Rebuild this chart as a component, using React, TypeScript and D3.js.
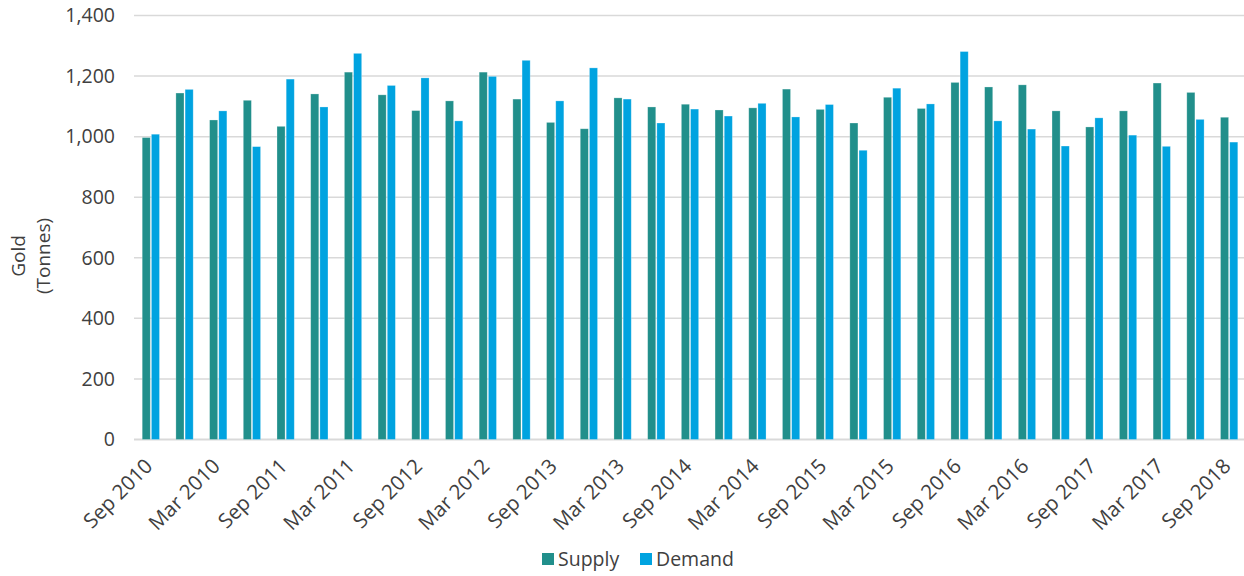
import React from "react";
import * as d3 from "d3";

const categories = [
  "Sep 2010", "Dec 2010", "Mar 2010", "Jun 2010",
  "Sep 2011", "Dec 2011", "Mar 2011", "Jun 2011",
  "Sep 2012", "Dec 2012", "Mar 2012", "Jun 2012",
  "Sep 2013", "Dec 2013", "Mar 2013", "Jun 2013",
  "Sep 2014", "Dec 2014", "Mar 2014", "Jun 2014",
  "Sep 2015", "Dec 2015", "Mar 2015", "Jun 2015",
  "Sep 2016", "Dec 2016", "Mar 2016", "Jun 2016",
  "Sep 2017", "Dec 2017", "Mar 2017", "Jun 2017",
  "Sep 2018",
];

const supply = [
  997, 1144, 1055, 1120, 1034, 1141, 1213, 1138, 1086, 1118, 1213, 1124,
  1047, 1026, 1128, 1098, 1107, 1088, 1095, 1157, 1090, 1045, 1130, 1093,
  1179, 1164, 1171, 1085, 1032, 1085, 1177, 1146, 1064,
];

const demand = [
  1008, 1156, 1085, 967, 1190, 1098, 1275, 1169, 1194, 1052, 1199, 1252,
  1118, 1227, 1124, 1045, 1091, 1068, 1110, 1065, 1106, 955, 1160, 1108,
  1281, 1052, 1025, 969, 1062, 1005, 968, 1057, 982,
];

const yTicks = [0, 200, 400, 600, 800, 1000, 1200, 1400];

const seriesNames = ["Supply", "Demand"];
const seriesColors = ["#218F8B", "#00A3E0"];

const W = 1244;
const H = 576;
const FONT = "'Open Sans', sans-serif";
const TEXT = "#404040";

export default function App() {
  const left = 134;
  const right = 1246;
  const top = 15.5;
  const bottom = 439.5;

  const x = d3
    .scaleBand<string>()
    .domain(categories)
    .range([left, right])
    .paddingInner(0.487)
    .paddingOuter(0.2435);
  const xs = d3
    .scaleBand<string>()
    .domain(seriesNames)
    .range([0, x.bandwidth()])
    .paddingInner(0.12);
  const y = d3.scaleLinear().domain([0, 1400]).range([bottom, top]);

  const data = [supply, demand];
  const fmt = d3.format(",");

  return (
    <svg
      width={W}
      height={H}
      style={{ position: "absolute", left: 0, top: 0, background: "#fff" }}
      fontFamily={FONT}
    >
      {yTicks.map((t) => (
        <g key={t}>
          <line
            x1={left}
            x2={W}
            y1={y(t)}
            y2={y(t)}
            stroke="#D9D9D9"
            strokeWidth={t === 0 ? 2 : 1.5}
          />
          <text
            x={115}
            y={y(t)}
            dy="0.35em"
            textAnchor="end"
            fontSize={19.5}
            fill={TEXT}
          >
            {fmt(t)}
          </text>
        </g>
      ))}

      {categories.map((c, i) => (
        <g key={c}>
          {seriesNames.map((s, k) => (
            <rect
              key={s}
              x={(x(c) as number) + (xs(s) as number)}
              y={y(data[k][i])}
              width={xs.bandwidth()}
              height={y(0) - y(data[k][i])}
              fill={seriesColors[k]}
              stroke="#ffffff"
              strokeOpacity={0.35}
              strokeWidth={0.75}
            />
          ))}
        </g>
      ))}

      {categories.map((c, i) =>
        i % 2 === 0 ? (
          <text
            key={"l" + c}
            transform={`translate(${(x(c) as number) + x.bandwidth() / 2 + 3},${bottom + 28}) rotate(-45)`}
            textAnchor="end"
            fontSize={20.5}
            fill={TEXT}
          >
            {c}
          </text>
        ) : null
      )}

      <g transform="translate(25,256) rotate(-90)">
        <text textAnchor="middle" fontSize={19} fill={TEXT} y={0}>
          Gold
        </text>
        <text textAnchor="middle" fontSize={19} fill={TEXT} y={25}>
          (Tonnes)
        </text>
      </g>

      <g>
        <rect x={542} y={553} width={12} height={12} fill={seriesColors[0]} />
        <text x={558} y={559} dy="0.35em" fontSize={19.5} fill={TEXT}>
          Supply
        </text>
        <rect x={640} y={553} width={12} height={12} fill={seriesColors[1]} />
        <text x={656} y={559} dy="0.35em" fontSize={19.5} fill={TEXT}>
          Demand
        </text>
      </g>
    </svg>
  );
}
